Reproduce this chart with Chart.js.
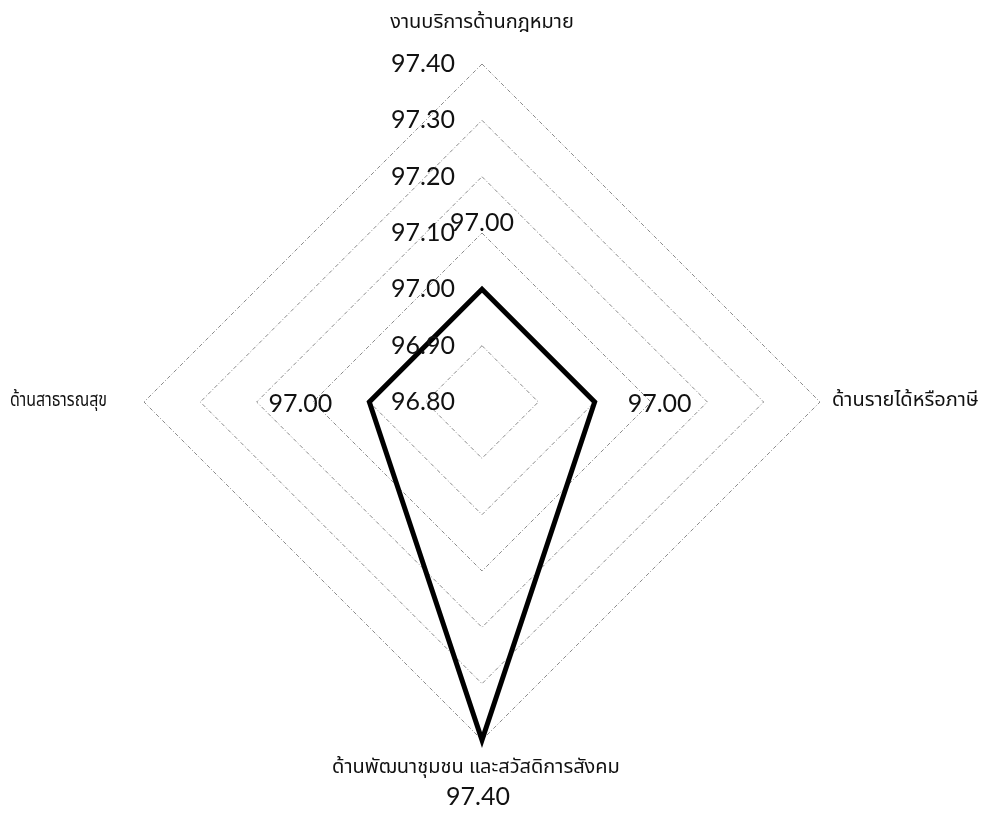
<!DOCTYPE html>
<html>
<head>
<meta charset="utf-8">
<script src="https://cdn.jsdelivr.net/npm/chart.js@4/dist/chart.umd.min.js"></script>
<style>
  html, body { margin: 0; padding: 0; background: #fff; overflow: hidden; }
  #wrap { width: 996px; height: 816px; position: relative; }
</style>
</head>
<body>
<div id="wrap"><canvas id="c"></canvas></div>
<script>
// Service satisfaction scores by area
const categories = ['งานบริการด้านกฎหมาย', 'ด้านรายได้หรือภาษี', 'ด้านพัฒนาชุมชน และสวัสดิการสังคม', 'ด้านสาธารณสุข'];
const scores = [97.00, 97.00, 97.40, 97.00];
const tickValues = [97.40, 97.30, 97.20, 97.10, 97.00, 96.90, 96.80];

const NUM_FONT = '25px Lato, "Liberation Sans", sans-serif';
const THAI_FONT = '20px "Noto Sans Thai", "Noto Sans", Tahoma, sans-serif';

// Draws tick values beside the vertical axis, category names and value labels
const radarText = {
  id: 'radarText',
  afterDatasetsDraw(chart) {
    const ctx = chart.ctx;
    const r = chart.scales.r;
    const cx = r.xCenter, cy = r.yCenter;
    ctx.save();
    ctx.fillStyle = '#111';

    // tick values, right-aligned left of the vertical axis
    ctx.font = NUM_FONT;
    ctx.textAlign = 'right';
    ctx.textBaseline = 'middle';
    tickValues.forEach(v => {
      const y = cy - r.getDistanceFromCenterForValue(v);
      ctx.fillText(v.toFixed(2), cx - 27, y);
    });

    // category names at the outer ring
    ctx.font = THAI_FONT;
    const outer = r.drawingArea;
    categories.forEach((name, i) => {
      const p = r.getPointPosition(i, outer);
      if (i === 0) { ctx.textAlign = 'center'; ctx.fillText(name, p.x, p.y - 40); }
      else if (i === 1) { ctx.textAlign = 'left'; ctx.fillText(name, p.x + 12, p.y); }
      else if (i === 2) { ctx.textAlign = 'center'; ctx.fillText(name, p.x - 6, p.y + 29); }
      else { ctx.textAlign = 'right'; ctx.fillText(name, p.x - 37, p.y, p.x - 47); }
    });

    // value labels next to each point
    ctx.font = NUM_FONT;
    scores.forEach((v, i) => {
      const p = r.getPointPosition(i, r.getDistanceFromCenterForValue(v));
      const txt = v.toFixed(2);
      if (i === 0) { ctx.textAlign = 'center'; ctx.fillText(txt, p.x, p.y - 66); }
      else if (i === 1) { ctx.textAlign = 'left'; ctx.fillText(txt, p.x + 33, p.y + 2); }
      else if (i === 2) { ctx.textAlign = 'center'; ctx.fillText(txt, p.x - 4, p.y + 57); }
      else { ctx.textAlign = 'right'; ctx.fillText(txt, p.x - 37, p.y + 2); }
    });
    ctx.restore();
  }
};

new Chart(document.getElementById('c'), {
  type: 'radar',
  data: {
    labels: categories,
    datasets: [{
      data: scores,
      borderColor: '#000',
      borderWidth: 5,
      borderJoinStyle: 'miter',
      backgroundColor: 'rgba(0,0,0,0)',
      fill: false,
      pointRadius: 0,
      pointHoverRadius: 0,
      tension: 0
    }]
  },
  options: {
    responsive: true,
    maintainAspectRatio: false,
    animation: false,
    events: [],
    layout: { padding: { left: 144, right: 176, top: 64, bottom: 76 } },
    plugins: { legend: { display: false }, tooltip: { enabled: false } },
    scales: {
      r: {
        min: 96.8,
        max: 97.4,
        ticks: { stepSize: 0.1, display: false },
        pointLabels: { display: false },
        angleLines: { display: false },
        grid: { color: '#8a8a8a', lineWidth: 1, circular: false, borderDash: [4, 2, 1, 2] },
        border: { dash: [4, 2, 1, 2] }
      }
    }
  },
  plugins: [radarText]
});
</script>
</body>
</html>
